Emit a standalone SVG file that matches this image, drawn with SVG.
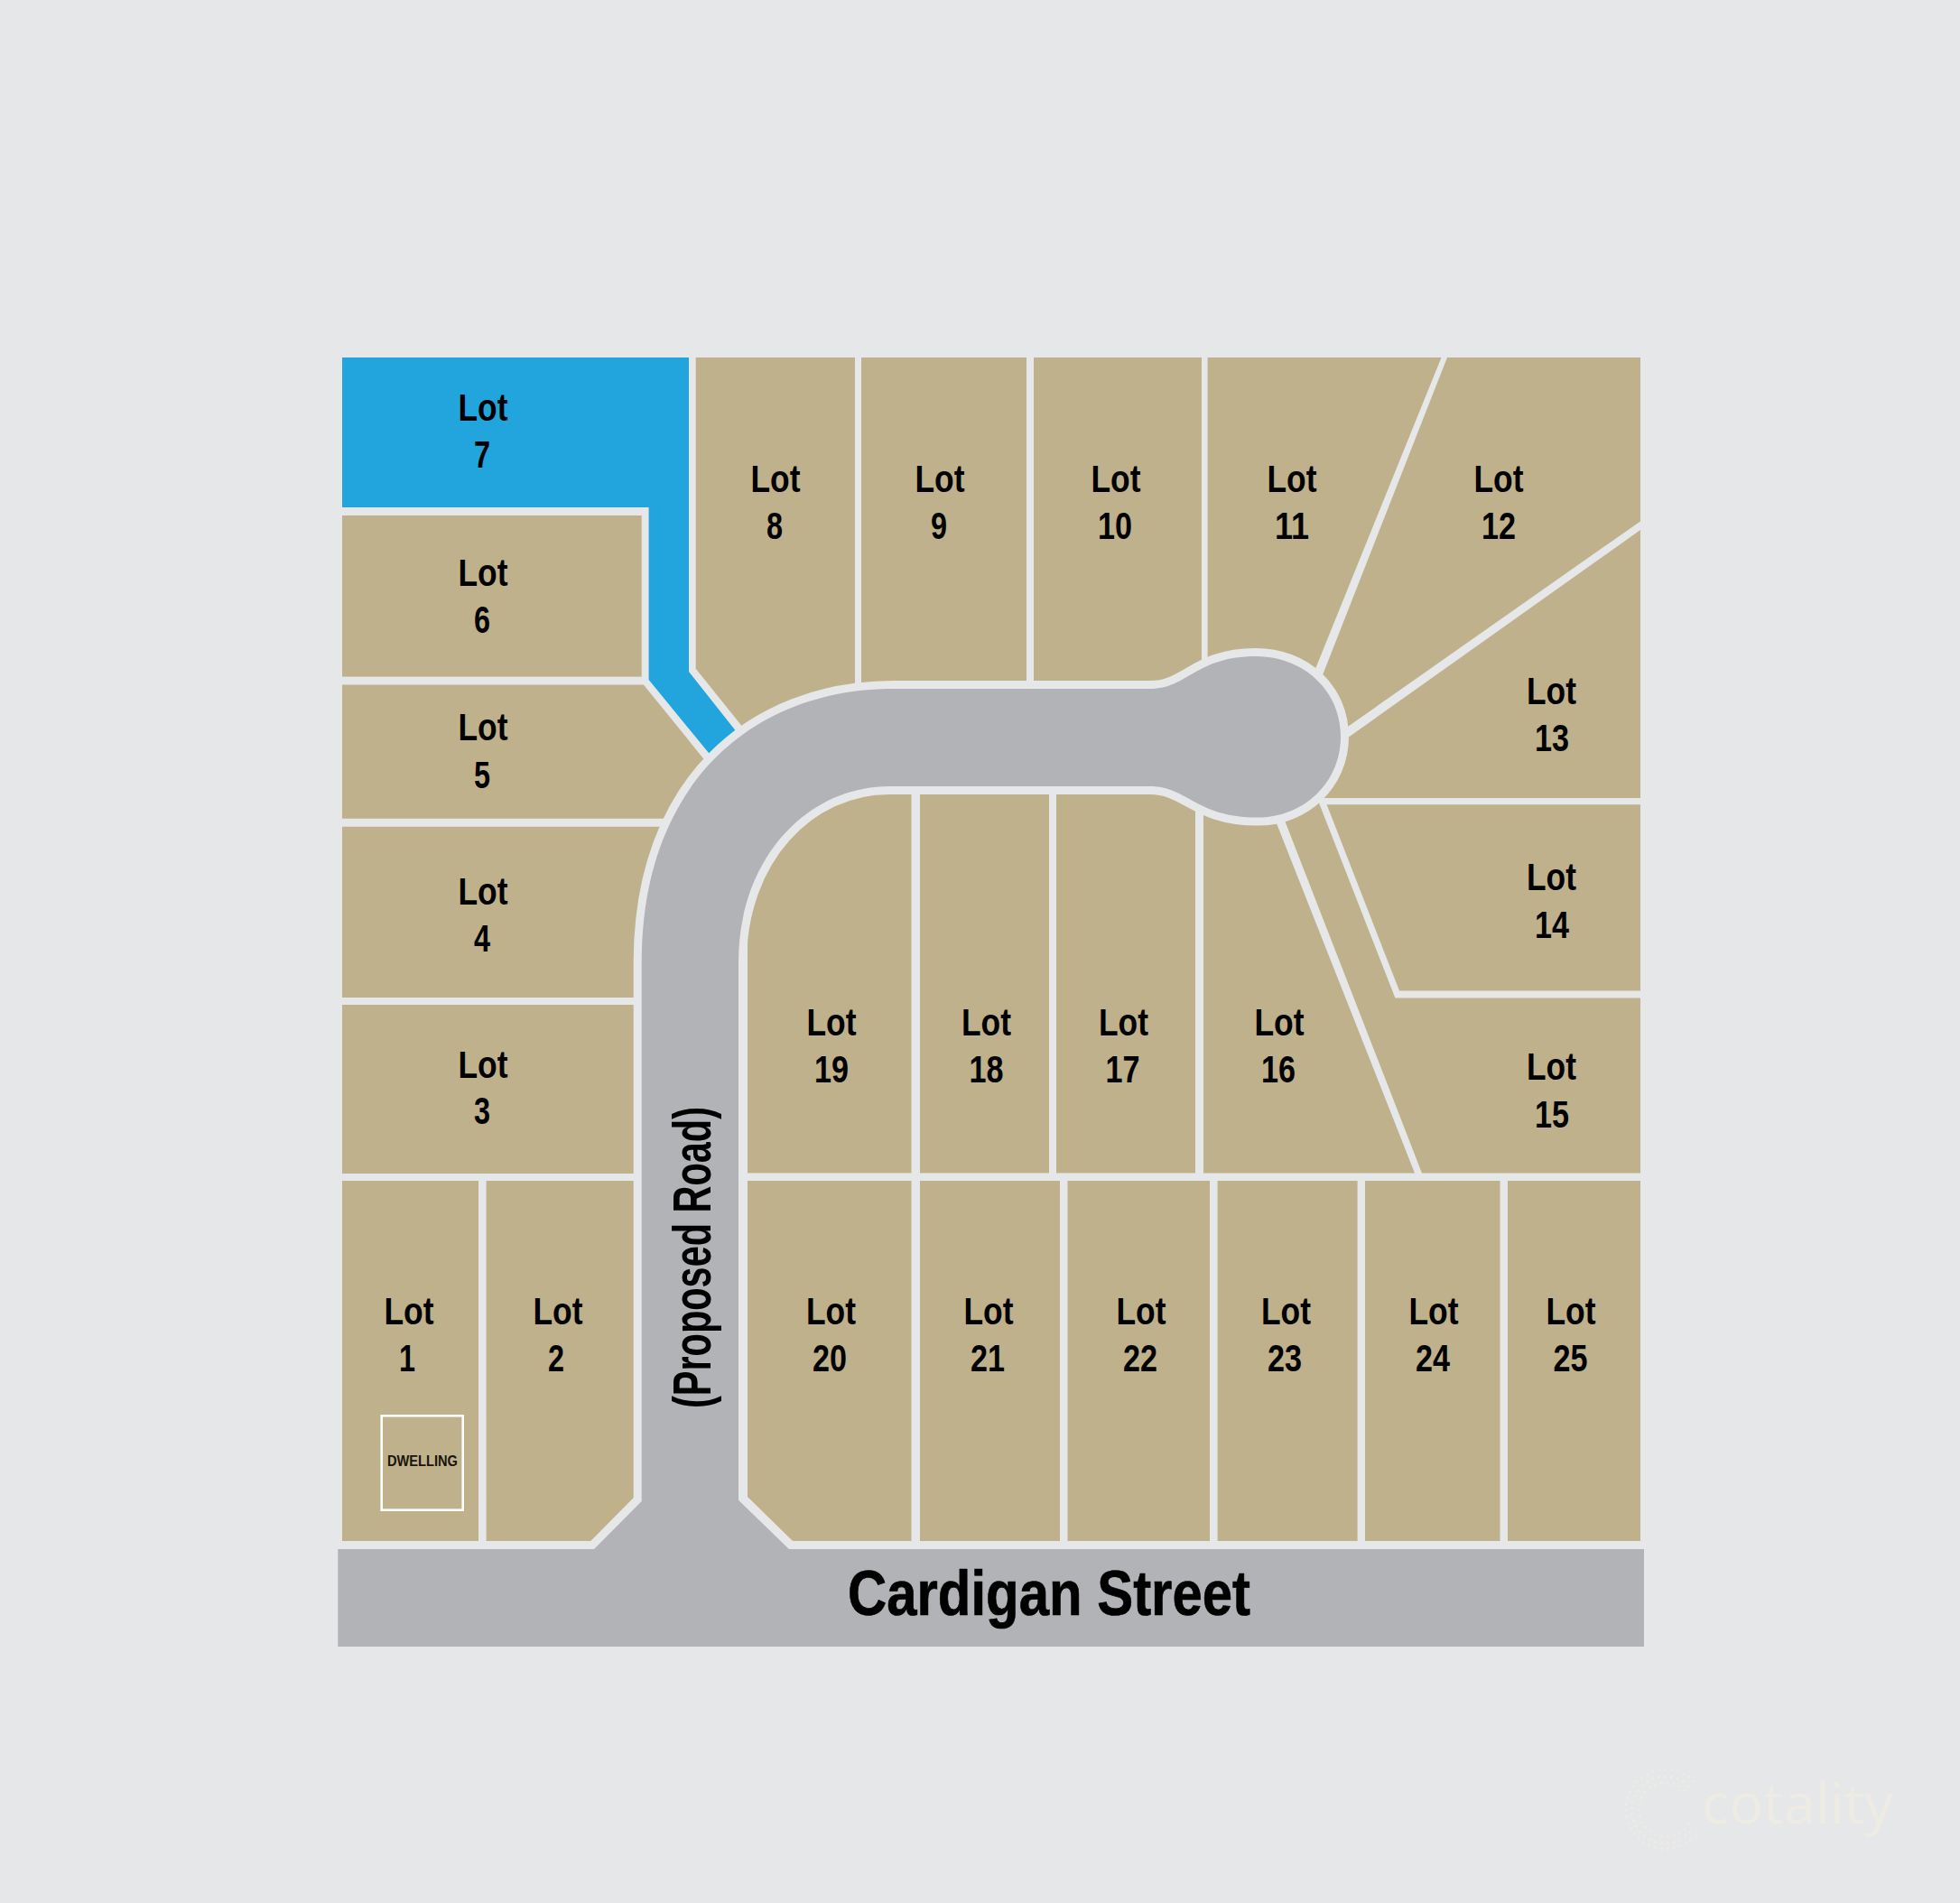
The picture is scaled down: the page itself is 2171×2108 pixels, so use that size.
<svg xmlns="http://www.w3.org/2000/svg" width="2171" height="2108" viewBox="0 0 2171 2108">
<style>
.lot{fill:#bfb18b}
.sel{fill:#21a5dc}
.t{font-family:"Liberation Sans",Arial,sans-serif;font-weight:700;font-size:43px;fill:#000;text-anchor:middle}
.road{fill:#b2b3b7;stroke:#e6e7e9;stroke-width:18;paint-order:stroke;stroke-linejoin:miter}
.dots{fill:none;stroke:#eeebe5;stroke-width:3.2;stroke-linecap:round}
</style>
<rect width="2171" height="2108" fill="#e6e7e9"/>
<g id="lots">
<g id="lot-1"><rect class="lot" x="379" y="1308" width="151" height="399"/><text class="t" x="453" y="1467" textLength="55" lengthAdjust="spacingAndGlyphs">Lot</text><text class="t" x="451" y="1519" textLength="18" lengthAdjust="spacingAndGlyphs">1</text></g>
<g id="lot-2"><polygon class="lot" points="538.6,1308 702,1308 702,1659 654.6,1707 538.6,1707"/><text class="t" x="618" y="1467" textLength="55" lengthAdjust="spacingAndGlyphs">Lot</text><text class="t" x="616" y="1519" textLength="18" lengthAdjust="spacingAndGlyphs">2</text></g>
<g id="lot-3"><rect class="lot" x="379" y="1113" width="323" height="187"/><text class="t" x="535" y="1194" textLength="55" lengthAdjust="spacingAndGlyphs">Lot</text><text class="t" x="534" y="1245" textLength="18" lengthAdjust="spacingAndGlyphs">3</text></g>
<g id="lot-4"><polygon class="lot" points="379,915.7 745,915.7 720,1105 379,1105"/><text class="t" x="535" y="1002" textLength="55" lengthAdjust="spacingAndGlyphs">Lot</text><text class="t" x="534" y="1054" textLength="18" lengthAdjust="spacingAndGlyphs">4</text></g>
<g id="lot-5"><polygon class="lot" points="379,758.6 712.9,758.6 800,866 780,906.8 379,906.8"/><text class="t" x="535" y="820" textLength="55" lengthAdjust="spacingAndGlyphs">Lot</text><text class="t" x="534" y="873" textLength="18" lengthAdjust="spacingAndGlyphs">5</text></g>
<g id="lot-6"><rect class="lot" x="379" y="571" width="331.7" height="178.6"/><text class="t" x="535" y="649" textLength="55" lengthAdjust="spacingAndGlyphs">Lot</text><text class="t" x="534" y="701" textLength="18" lengthAdjust="spacingAndGlyphs">6</text></g>
<g id="lot-7"><polygon class="sel" points="379,396 763,396 763,744 835,835 803,856 718.6,753 718.6,562 379,562"/><text class="t" x="535" y="466" textLength="55" lengthAdjust="spacingAndGlyphs">Lot</text><text class="t" x="534" y="518" textLength="18" lengthAdjust="spacingAndGlyphs">7</text></g>
<g id="lot-8"><polygon class="lot" points="770.7,396 947,396 947,790 840,827 770.7,740.7"/><text class="t" x="859" y="545" textLength="55" lengthAdjust="spacingAndGlyphs">Lot</text><text class="t" x="858" y="597" textLength="18" lengthAdjust="spacingAndGlyphs">8</text></g>
<g id="lot-9"><rect class="lot" x="954" y="396" width="183" height="394"/><text class="t" x="1041" y="545" textLength="55" lengthAdjust="spacingAndGlyphs">Lot</text><text class="t" x="1040" y="597" textLength="18" lengthAdjust="spacingAndGlyphs">9</text></g>
<g id="lot-10"><rect class="lot" x="1145" y="396" width="186" height="394"/><text class="t" x="1236" y="545" textLength="55" lengthAdjust="spacingAndGlyphs">Lot</text><text class="t" x="1235" y="597" textLength="38" lengthAdjust="spacingAndGlyphs">10</text></g>
<g id="lot-11"><polygon class="lot" points="1337.6,396 1596.5,396 1440,783 1337.6,783"/><text class="t" x="1431" y="545" textLength="55" lengthAdjust="spacingAndGlyphs">Lot</text><text class="t" x="1431" y="597" textLength="38" lengthAdjust="spacingAndGlyphs">11</text></g>
<g id="lot-12"><polygon class="lot" points="1603,396 1817,396 1817,577.4 1460,828 1450,786"/><text class="t" x="1660" y="545" textLength="55" lengthAdjust="spacingAndGlyphs">Lot</text><text class="t" x="1660" y="597" textLength="38" lengthAdjust="spacingAndGlyphs">12</text></g>
<g id="lot-13"><polygon class="lot" points="1460,840.5 1817,587 1817,884 1460,884"/><text class="t" x="1718.500" y="780" textLength="55" lengthAdjust="spacingAndGlyphs">Lot</text><text class="t" x="1719" y="832" textLength="38" lengthAdjust="spacingAndGlyphs">13</text></g>
<g id="lot-14"><polygon class="lot" points="1469.6,891.3 1817,891.3 1817,1097.6 1550,1097.6"/><text class="t" x="1718.500" y="986" textLength="55" lengthAdjust="spacingAndGlyphs">Lot</text><text class="t" x="1719" y="1039" textLength="38" lengthAdjust="spacingAndGlyphs">14</text></g>
<g id="lot-15"><polygon class="lot" points="1404,860 1449.5,860 1545.4,1105.6 1817,1105.6 1817,1299.4 1575,1299.4"/><text class="t" x="1718.500" y="1196" textLength="55" lengthAdjust="spacingAndGlyphs">Lot</text><text class="t" x="1719" y="1249" textLength="38" lengthAdjust="spacingAndGlyphs">15</text></g>
<g id="lot-16"><polygon class="lot" points="1333,860 1395,864 1567,1299.4 1333,1299.4"/><text class="t" x="1417" y="1147" textLength="55" lengthAdjust="spacingAndGlyphs">Lot</text><text class="t" x="1416" y="1199" textLength="38" lengthAdjust="spacingAndGlyphs">16</text></g>
<g id="lot-17"><rect class="lot" x="1170" y="850" width="154" height="449.4"/><text class="t" x="1244.500" y="1147" textLength="55" lengthAdjust="spacingAndGlyphs">Lot</text><text class="t" x="1243.500" y="1199" textLength="38" lengthAdjust="spacingAndGlyphs">17</text></g>
<g id="lot-18"><rect class="lot" x="1019" y="850" width="143" height="449.4"/><text class="t" x="1092.500" y="1147" textLength="55" lengthAdjust="spacingAndGlyphs">Lot</text><text class="t" x="1092.500" y="1199" textLength="38" lengthAdjust="spacingAndGlyphs">18</text></g>
<g id="lot-19"><rect class="lot" x="828" y="850" width="181.5" height="449.4"/><text class="t" x="921" y="1147" textLength="55" lengthAdjust="spacingAndGlyphs">Lot</text><text class="t" x="921" y="1199" textLength="38" lengthAdjust="spacingAndGlyphs">19</text></g>
<g id="lot-20"><polygon class="lot" points="828,1308 1009.5,1308 1009.5,1707 878,1707 828,1658"/><text class="t" x="920.500" y="1467" textLength="55" lengthAdjust="spacingAndGlyphs">Lot</text><text class="t" x="919" y="1519" textLength="38" lengthAdjust="spacingAndGlyphs">20</text></g>
<g id="lot-21"><rect class="lot" x="1019" y="1308" width="155" height="399"/><text class="t" x="1095" y="1467" textLength="55" lengthAdjust="spacingAndGlyphs">Lot</text><text class="t" x="1094" y="1519" textLength="38" lengthAdjust="spacingAndGlyphs">21</text></g>
<g id="lot-22"><rect class="lot" x="1182.5" y="1308" width="157.5" height="399"/><text class="t" x="1264" y="1467" textLength="55" lengthAdjust="spacingAndGlyphs">Lot</text><text class="t" x="1263" y="1519" textLength="38" lengthAdjust="spacingAndGlyphs">22</text></g>
<g id="lot-23"><rect class="lot" x="1348.6" y="1308" width="155" height="399"/><text class="t" x="1424.500" y="1467" textLength="55" lengthAdjust="spacingAndGlyphs">Lot</text><text class="t" x="1423" y="1519" textLength="38" lengthAdjust="spacingAndGlyphs">23</text></g>
<g id="lot-24"><rect class="lot" x="1512" y="1308" width="149.5" height="399"/><text class="t" x="1588" y="1467" textLength="55" lengthAdjust="spacingAndGlyphs">Lot</text><text class="t" x="1587" y="1519" textLength="38" lengthAdjust="spacingAndGlyphs">24</text></g>
<g id="lot-25"><rect class="lot" x="1670" y="1308" width="147" height="399"/><text class="t" x="1740" y="1467" textLength="55" lengthAdjust="spacingAndGlyphs">Lot</text><text class="t" x="1739.500" y="1519" textLength="38" lengthAdjust="spacingAndGlyphs">25</text></g>
</g>
<g id="dwelling"><rect x="422.7" y="1568.3" width="90" height="104.4" fill="none" stroke="#fff" stroke-width="2.6"/><text x="468" y="1624" text-anchor="middle" font-family="'Liberation Sans',Arial,sans-serif" font-weight="700" font-size="16.5" fill="#1a1408" textLength="78" lengthAdjust="spacingAndGlyphs">DWELLING</text></g>
<g id="road">
<path class="road" d="M710.7,1066 C710.7,870 832,763 990,763 L1274,763 C1315,763 1325,727 1391,727 C1444,727 1485,765 1485,816 C1485,867 1444,905.600 1393,905.600 C1325,905.600 1315,871 1274,871 L985,871 C895,871 818,950 818,1066 L818,1661.700 L874,1716 L1821,1716 L1821,1824 L374.300,1824 L374.300,1716 L658,1716 L710.700,1663 Z"/>
<text id="proposed-road" transform="translate(787,1393) rotate(-90)" text-anchor="middle" font-family="'Liberation Sans',Arial,sans-serif" font-weight="700" font-size="60" fill="#000" textLength="334" lengthAdjust="spacingAndGlyphs">(Proposed Road)</text>
<text id="cardigan-street" x="1162" y="1789" text-anchor="middle" font-family="'Liberation Sans',Arial,sans-serif" font-weight="700" font-size="70" fill="#000" stroke="#000" stroke-width=".7" textLength="446" lengthAdjust="spacingAndGlyphs">Cardigan Street</text>
</g>
<g id="watermark">
<g class="dots"><path d="M1876,1973 A44,44 0 1 0 1878.700,2032" stroke-dasharray="0 7"/><path d="M1870,1978 A37,37 0 1 0 1875,2026" stroke-dasharray="0 7"/><path d="M1866,1983 A30,30 0 1 0 1871,2020" stroke-dasharray="0 7"/></g>
<text x="1885" y="2020" font-family="'Open Sans',sans-serif" font-size="62" fill="#eeebe5" textLength="212" lengthAdjust="spacingAndGlyphs">cotality</text>
</g>
</svg>
